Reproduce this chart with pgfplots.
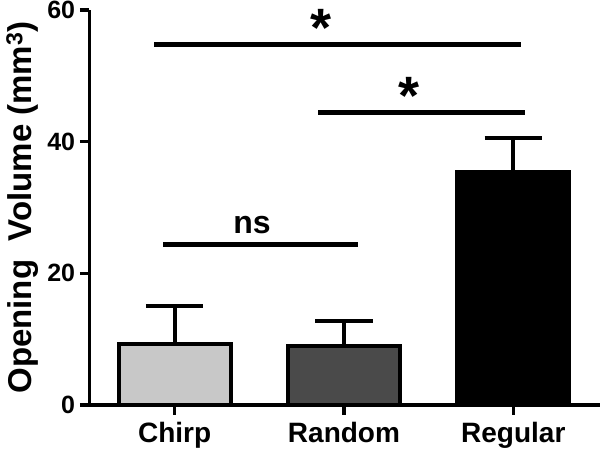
\documentclass[border=0pt]{standalone}
\usepackage{fontspec}
\setmainfont{Liberation Sans}
\usepackage{pgfplots}
\pgfplotsset{compat=1.18}
\definecolor{chirpgray}{RGB}{200,200,200}
\definecolor{randomgray}{RGB}{74,74,74}

\begin{document}
\begin{tikzpicture}
\begin{axis}[
    scale only axis,
    width=510.7pt, height=395pt,
    xmin=-0.504, xmax=2.512,
    ymin=0, ymax=60,
    axis lines=left,
    axis line style={-, line width=3.3pt},
    xtick={0,1,2},
    xticklabels={Chirp,Random,Regular},
    ytick={0,20,40,60},
    tick align=outside,
    major tick length=9.5pt,
    tick style={line width=3.3pt, black},
    /pgf/number format/assume math mode=true,
    yticklabel style={font=\fontsize{25}{30}\selectfont\bfseries, inner xsep=4.5pt},
    xticklabel style={font=\fontsize{28}{34}\selectfont\bfseries, inner ysep=8pt},
    ylabel={Opening\ \ Volume (mm\textsuperscript{3})},
    ylabel style={at={(axis description cs:-0.1135,0.5)}, anchor=base,
        font=\fontsize{33}{40}\selectfont\bfseries, inner sep=0pt},
    clip=false,
    errbar/.style={error bars/.cd, y dir=plus, y explicit,
        error bar style={line width=4pt, black},
        error mark options={rotate=90, line width=4pt, mark size=28.8pt}},
]
    % bars with upper error bars (mean + SD)
    \addplot[ybar, bar width=112pt, bar shift=0pt, fill=chirpgray, draw=black, line width=4pt, errbar]
        coordinates {(0,9.3) +- (0,5.75)};
    \addplot[ybar, bar width=112pt, bar shift=0pt, fill=randomgray, draw=black, line width=4pt, errbar]
        coordinates {(1,8.9) +- (0,3.86)};
    \addplot[ybar, bar width=112pt, bar shift=0pt, fill=black, draw=black, line width=4pt, errbar]
        coordinates {(2,35.4) +- (0,5.2)};

    % significance brackets
    \draw[line width=4.5pt] (axis cs:-0.1205,54.74) -- (axis cs:2.0467,54.74);
    \draw[line width=4.5pt] (axis cs:0.8485,44.4) -- (axis cs:2.0697,44.4);
    \draw[line width=4.5pt] (axis cs:-0.0661,24.4) -- (axis cs:1.0818,24.4);
    \node[anchor=base, inner sep=0pt, font=\fontsize{32}{38}\selectfont\bfseries] at (axis cs:0.457,26.08) {ns};
    \node[anchor=base, inner sep=0pt, font=\fontsize{54}{62}\selectfont\bfseries] at (axis cs:0.8645,54.4) {*};
    \node[anchor=base, inner sep=0pt, font=\fontsize{54}{62}\selectfont\bfseries] at (axis cs:1.383,44.2) {*};
\end{axis}
\pgfresetboundingbox
\useasboundingbox (-89.3pt,-46pt) rectangle (510.7pt,405pt);
\end{tikzpicture}
\end{document}
